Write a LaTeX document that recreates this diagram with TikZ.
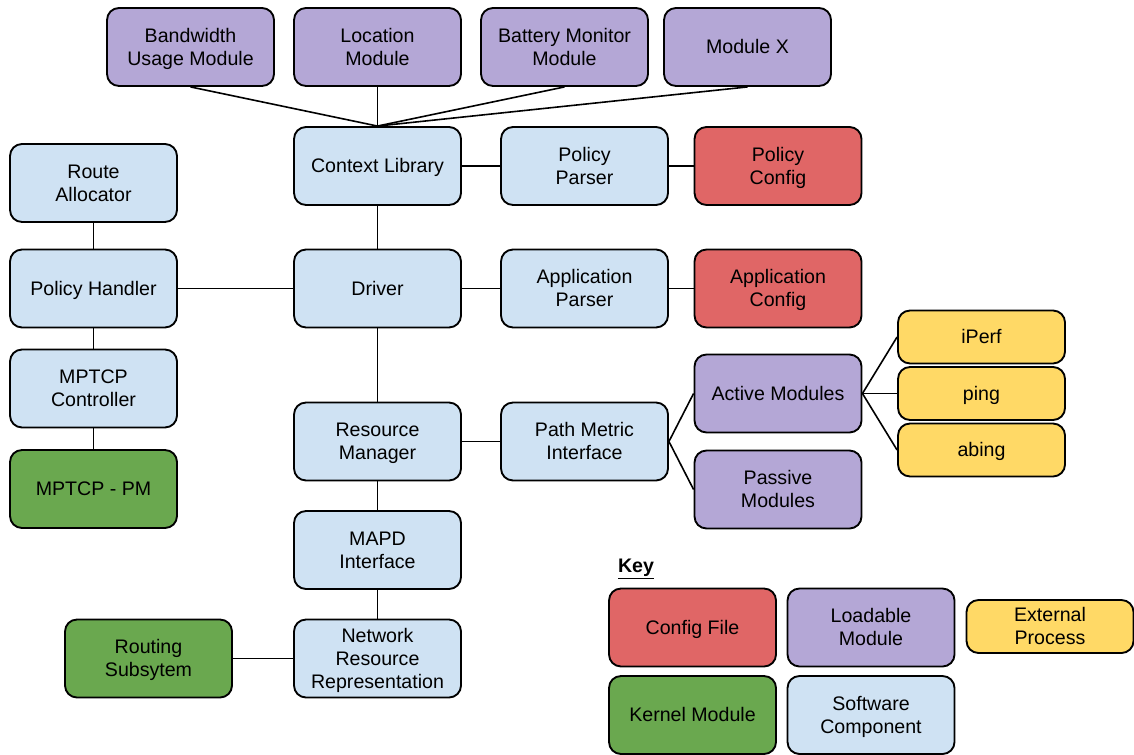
\documentclass[tikz,border=0pt]{standalone}
\usepackage{fontspec}
\setmainfont{Liberation Sans}
% uniform line box so every label line has the same height and depth
\newcommand{\ls}{\rule[-3.5pt]{0pt}{17.25pt}}
\begin{document}
\begin{tikzpicture}[x=0.75pt,y=-0.75pt,
  box/.style={draw=black, line width=1.4pt, rounded corners=9pt,
    minimum width=125.25pt, minimum height=58.5pt, inner sep=0pt,
    align=center, font=\fontsize{14.7pt}{17.25pt}\selectfont},
  shortbox/.style={box, minimum height=39.75pt},
  software/.style={box, fill=swblue},
  loadable/.style={box, fill=modpurple},
  config/.style={box, fill=cfgred},
  kernel/.style={box, fill=kerngreen},
  external/.style={shortbox, fill=extyellow},
  link/.style={draw=black, line width=1.2pt}]
\definecolor{swblue}{HTML}{CFE2F3}
\definecolor{modpurple}{HTML}{B4A7D6}
\definecolor{cfgred}{HTML}{E06666}
\definecolor{kerngreen}{HTML}{6AA84F}
\definecolor{extyellow}{HTML}{FFD966}
\useasboundingbox (0,0) rectangle (1134,755);

% context modules
\node[loadable] (bw)   at (190.5,47) {\ls Bandwidth\\\ls Usage Module};
\node[loadable] (loc)  at (377.5,47) {\ls Location\\\ls Module};
\node[loadable] (bat)  at (564.5,47) {\ls Battery Monitor\\\ls Module};
\node[loadable] (modx) at (747.5,47) {\ls Module X};

% core column
\node[software] (ctx)    at (377.5,166)   {\ls Context Library};
\node[software] (driver) at (377.5,288.5) {\ls Driver};
\node[software] (resmgr) at (377.5,441.5) {\ls Resource\\\ls Manager};
\node[software] (mapd)   at (377.5,550)   {\ls MAPD\\\ls Interface};
\node[software] (nrr)    at (377.5,658.5) {\ls Network\\\ls Resource\\\ls Representation};

% parsers and configs
\node[software] (pparse) at (584.5,166)   {\ls Policy\\\ls Parser};
\node[config]   (pconf)  at (778,166)     {\ls Policy\\\ls Config};
\node[software] (aparse) at (584.5,288.5) {\ls Application\\\ls Parser};
\node[config]   (aconf)  at (778,288.5)   {\ls Application\\\ls Config};

% policy side
\node[software] (route) at (93.5,183)   {\ls Route\\\ls Allocator};
\node[software] (phand) at (93.5,288.5) {\ls Policy Handler};
\node[software] (mctl)  at (93.5,388.5) {\ls MPTCP\\\ls Controller};
\node[kernel]   (mpm)   at (93.5,489)   {\ls MPTCP - PM};
\node[kernel]   (routing) at (148.5,658.5) {\ls Routing\\\ls Subsytem};

% path metrics
\node[software] (pmi)     at (584.5,441.5) {\ls Path Metric\\\ls Interface};
\node[loadable] (active)  at (778,393.5)   {\ls Active Modules};
\node[loadable] (passive) at (778,489.5)   {\ls Passive\\\ls Modules};
\node[external] (iperf) at (981.5,337)   {\ls iPerf};
\node[external] (ping)  at (981.5,393.5) {\ls ping};
\node[external] (abing) at (981.5,450)   {\ls abing};

% connectors
\foreach \m in {bw,loc,bat,modx} \draw[link] (\m.south) -- (ctx.north);
\draw[link] (ctx) -- (pparse);
\draw[link] (pparse) -- (pconf);
\draw[link] (ctx) -- (driver);
\draw[link] (driver) -- (aparse);
\draw[link] (aparse) -- (aconf);
\draw[link] (phand) -- (driver);
\draw[link] (route) -- (phand);
\draw[link] (phand) -- (mctl);
\draw[link] (mctl) -- (mpm);
\draw[link] (driver) -- (resmgr);
\draw[link] (resmgr) -- (pmi);
\draw[link] (resmgr) -- (mapd);
\draw[link] (mapd) -- (nrr);
\draw[link] (routing) -- (nrr);
\draw[link] (pmi.east) -- (active.west);
\draw[link] (pmi.east) -- (passive.west);
\draw[link] (active.east) -- (iperf.west);
\draw[link] (active.east) -- (ping.west);
\draw[link] (active.east) -- (abing.west);

% key
\node[font=\fontsize{14.7pt}{17.25pt}\selectfont\bfseries, inner sep=0pt] (keylbl) at (636,569) {\underline{Key}};
\node[config]   (kconf) at (692.5,627.5) {\ls Config File};
\node[loadable] (kload) at (871,627.5)   {\ls Loadable\\\ls Module};
\node[external] (kext)  at (1050,626.5)  {\ls External\\\ls Process};
\node[kernel]   (kkern) at (692.5,715)   {\ls Kernel Module};
\node[software] (ksoft) at (871,715)     {\ls Software\\\ls Component};
\end{tikzpicture}
\end{document}
